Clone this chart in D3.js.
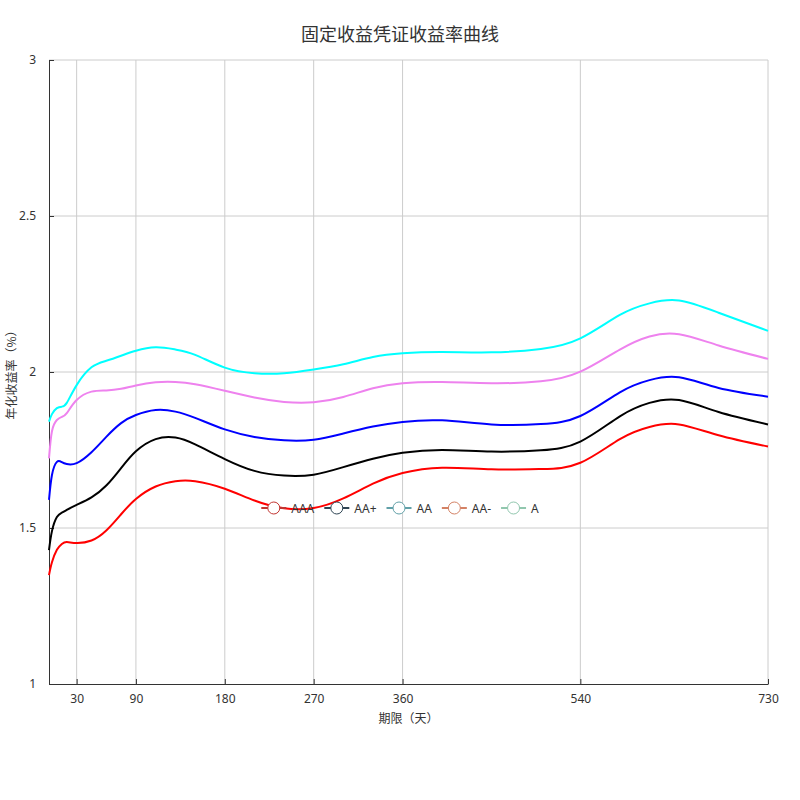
<!DOCTYPE html>
<html>
<head>
<meta charset="utf-8">
<script src="https://cdn.jsdelivr.net/npm/d3@7"></script>
<style>
  body { margin: 0; background: #fff; }
  svg { font-family: "Noto Sans", "Noto Sans CJK SC", sans-serif; }
</style>
</head>
<body>
<svg id="chart" width="800" height="800"></svg>
<script>
const title = '固定收益凭证收益率曲线';
const seriesNames = ['AAA', 'AA+', 'AA', 'AA-', 'A'];
const lineColors = ['red', 'black', 'blue', 'violet', 'cyan'];
// legend uses the default palette, not the line colours
const legendColors = ['#c23531', '#2f4554', '#61a0a8', '#d48265', '#91c7ae'];
const xTicks = [30, 90, 180, 270, 360, 540, 730];
const yTicks = [1, 1.5, 2, 2.5, 3];

const days = [2, 5, 10, 15, 20, 30, 45, 60, 75, 90, 110, 130, 150, 180, 210, 240, 270, 300, 330, 360, 400, 450, 500, 540, 580, 610, 640, 680, 730];
const aaa = [1.349, 1.39, 1.43, 1.449, 1.455, 1.452, 1.46, 1.492, 1.544, 1.593, 1.633, 1.650, 1.650, 1.626, 1.588, 1.563, 1.564, 1.595, 1.642, 1.676, 1.693, 1.688, 1.689, 1.709, 1.785, 1.824, 1.832, 1.797, 1.761];
const aaPlus = [1.429, 1.49, 1.535, 1.549, 1.558, 1.574, 1.598, 1.636, 1.692, 1.746, 1.785, 1.790, 1.768, 1.721, 1.683, 1.668, 1.671, 1.695, 1.722, 1.741, 1.750, 1.745, 1.749, 1.777, 1.858, 1.901, 1.910, 1.872, 1.832];
const aa = [1.590, 1.67, 1.712, 1.711, 1.705, 1.708, 1.743, 1.792, 1.836, 1.862, 1.878, 1.873, 1.853, 1.816, 1.792, 1.781, 1.783, 1.803, 1.825, 1.840, 1.845, 1.832, 1.833, 1.859, 1.935, 1.974, 1.983, 1.949, 1.921];
const aaMinus = [1.723, 1.81, 1.846, 1.856, 1.868, 1.910, 1.937, 1.941, 1.946, 1.957, 1.967, 1.968, 1.961, 1.940, 1.918, 1.904, 1.903, 1.920, 1.948, 1.964, 1.968, 1.964, 1.970, 2.001, 2.072, 2.114, 2.121, 2.085, 2.042];
const aRated = [1.841, 1.865, 1.884, 1.889, 1.901, 1.958, 2.015, 2.036, 2.052, 2.068, 2.079, 2.072, 2.055, 2.014, 1.996, 1.996, 2.008, 2.025, 2.048, 2.060, 2.064, 2.063, 2.074, 2.108, 2.183, 2.220, 2.229, 2.190, 2.132];
const seriesValues = [aaa, aaPlus, aa, aaMinus, aRated];

const svg = d3.select('#chart');
const margin = { left: 49, right: 32, top: 60, bottom: 116 };
const width = 800, height = 800;

const x = d3.scaleLinear().domain([2, 730]).range([margin.left, width - margin.right]);
const y = d3.scaleLinear().domain([1, 3]).range([height - margin.bottom, margin.top]);

// grid
svg.append('g')
  .selectAll('line').data(xTicks).join('line')
  .attr('x1', d => x(d)).attr('x2', d => x(d))
  .attr('y1', y(1)).attr('y2', y(3))
  .attr('stroke', '#ccc');
svg.append('g')
  .selectAll('line').data(yTicks.slice(1)).join('line')
  .attr('x1', x.range()[0]).attr('x2', x.range()[1])
  .attr('y1', d => y(d)).attr('y2', d => y(d))
  .attr('stroke', '#ccc');

// axes
const xAxis = svg.append('g')
  .attr('transform', `translate(0,${y(1)})`)
  .call(d3.axisBottom(x).tickValues(xTicks).tickSizeInner(-5).tickSizeOuter(0).tickPadding(10));
const yAxis = svg.append('g')
  .attr('transform', `translate(${x(2)},0)`)
  .call(d3.axisLeft(y).tickValues(yTicks).tickSizeInner(-5).tickSizeOuter(0).tickPadding(13).tickFormat(d3.format('')));
[xAxis, yAxis].forEach(g => {
  g.select('.domain').attr('stroke', '#333');
  g.selectAll('.tick line').attr('stroke', '#333');
  g.selectAll('.tick text').attr('fill', '#333').style('font-size', '12px')
    .style('font-family', '"Noto Sans", sans-serif');
});

// lines
const line = d3.line()
  .x((d, i) => x(days[i]))
  .y(d => y(d))
  .curve(d3.curveNatural);

seriesValues.forEach((vals, k) => {
  svg.append('path')
    .datum(vals)
    .attr('d', line)
    .attr('fill', 'none')
    .attr('stroke', lineColors[k])
    .attr('stroke-width', 2);
});

// titles
svg.append('text')
  .attr('x', 400).attr('y', 41)
  .attr('text-anchor', 'middle')
  .attr('fill', '#333')
  .style('font-size', '18px')
  .style('font-family', '"Noto Sans CJK SC", sans-serif')
  .text(title);

svg.append('text')
  .attr('x', (x.range()[0] + x.range()[1]) / 2).attr('y', 723)
  .attr('text-anchor', 'middle')
  .attr('fill', '#333')
  .style('font-size', '12px')
  .style('font-family', '"Noto Sans CJK SC", sans-serif')
  .text('期限（天）');

svg.append('text')
  .attr('transform', `translate(16,${(y(1) + y(3)) / 2}) rotate(-90)`)
  .attr('text-anchor', 'middle')
  .attr('fill', '#333')
  .style('font-size', '12px')
  .style('font-family', '"Noto Sans CJK SC", sans-serif')
  .text('年化收益率（%）');

// legend
const legend = svg.append('g');
let cx = 0;
seriesNames.forEach((name, k) => {
  const item = legend.append('g').attr('transform', `translate(${cx},0)`);
  item.append('line')
    .attr('x1', 0).attr('x2', 25).attr('y1', 0).attr('y2', 0)
    .attr('stroke', legendColors[k]).attr('stroke-width', 2);
  item.append('circle')
    .attr('cx', 12.5).attr('cy', 0).attr('r', 6)
    .attr('fill', '#fff').attr('stroke', legendColors[k]).attr('stroke-width', 1);
  const t = item.append('text')
    .attr('x', 30).attr('y', 4.5)
    .attr('fill', '#333')
    .style('font-size', '12px')
    .text(name);
  cx += 30 + t.node().getComputedTextLength() + 10;
});
const legendWidth = cx - 10;
legend.attr('transform', `translate(${400 - legendWidth / 2},508)`);
</script>
</body>
</html>
